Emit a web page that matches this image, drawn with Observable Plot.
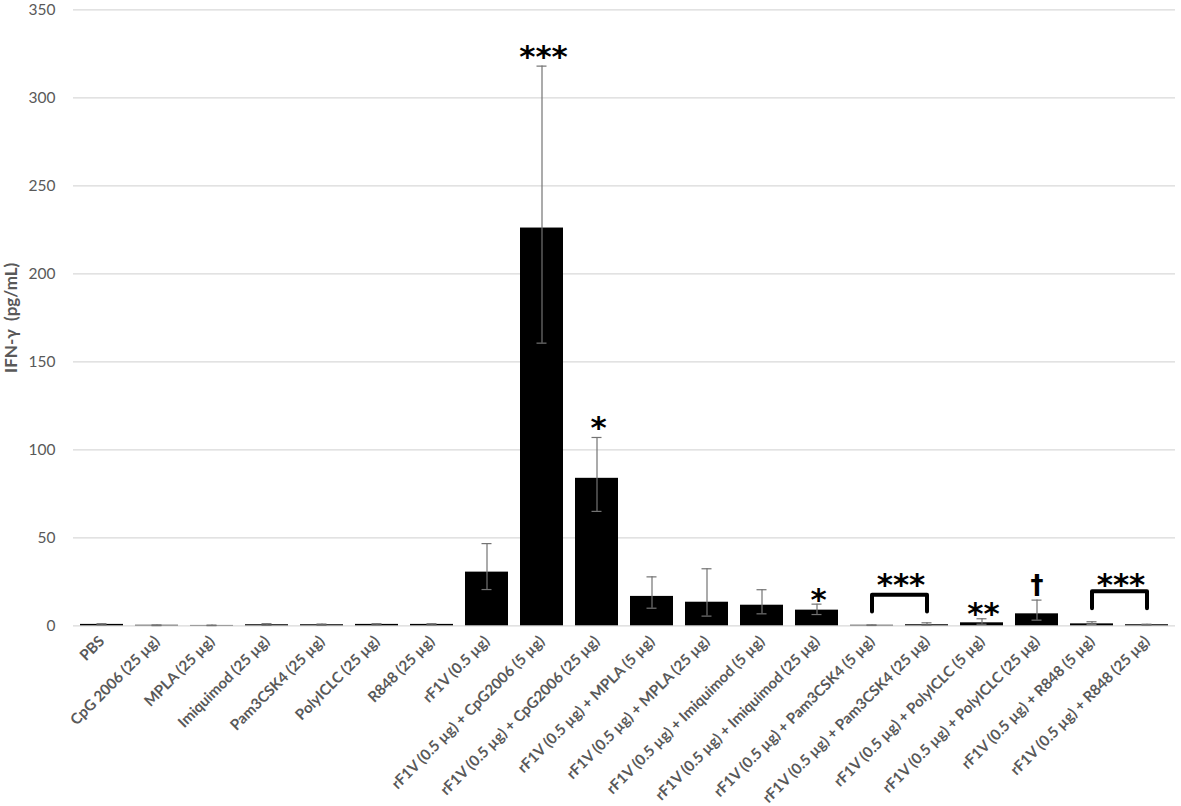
<!DOCTYPE html>
<html>
<head>
<meta charset="utf-8">
<script src="https://cdn.jsdelivr.net/npm/d3@7"></script>
<script src="https://cdn.jsdelivr.net/npm/@observablehq/plot@0.6"></script>
<style>
  html, body { margin: 0; padding: 0; background: #fff; }
  g[aria-label="stars"] text { letter-spacing: 3px; }
</style>
</head>
<body>
<div id="chart"></div>
<script>
const categories = [
  "PBS", "CpG 2006 (25 µg)", "MPLA (25 µg)", "Imiquimod (25 µg)", "Pam3CSK4 (25 µg)",
  "PolyICLC (25 µg)", "R848 (25 µg)", "rF1V (0.5 µg)",
  "rF1V (0.5 µg) + CpG2006 (5 µg)", "rF1V (0.5 µg) + CpG2006 (25 µg)",
  "rF1V (0.5 µg) + MPLA (5 µg)", "rF1V (0.5 µg) + MPLA (25 µg)",
  "rF1V (0.5 µg) + Imiquimod (5 µg)", "rF1V (0.5 µg) + Imiquimod (25 µg)",
  "rF1V (0.5 µg) + Pam3CSK4 (5 µg)", "rF1V (0.5 µg) + Pam3CSK4 (25 µg)",
  "rF1V (0.5 µg) + PolyICLC (5 µg)", "rF1V (0.5 µg) + PolyICLC (25 µg)",
  "rF1V (0.5 µg) + R848 (5 µg)", "rF1V (0.5 µg) + R848 (25 µg)"
];
const means = [0.8, 0.3, 0.2, 0.6, 0.6, 0.8, 0.8, 30.5, 226, 83.8, 16.7, 13.4, 11.7, 8.9, 0.3, 0.6, 1.7, 6.8, 1.1, 0.6];
const lows  = [0.5, 0.1, 0.1, 0.3, 0.3, 0.5, 0.5, 20.6, 160.6, 65, 10, 5.5, 6.8, 6.4, 0.2, 0.4, 0.9, 3.2, 0.8, 0.4];
const highs = [1.2, 0.5, 0.4, 1.2, 1.0, 1.2, 1.2, 46.7, 318, 107, 27.8, 32.4, 20.5, 12.3, 0.5, 1.7, 4.0, 14.6, 2.3, 0.9];
const yTicks = [0, 50, 100, 150, 200, 250, 300, 350];
const yLabel = "IFN-γ  (pg/mL)";

// significance marks above single bars
const starCats = [categories[8], categories[9], categories[13], categories[16]];
const starY = [326, 115, 17.2, 9.7];
const starText = ["***", "*", "*", "**"];
const daggerCats = [categories[17]];
const daggerY = [22.9];
const daggerText = ["†"];
// brackets spanning two bars
const bracketLeft = [categories[14], categories[18]];
const bracketRight = [categories[15], categories[19]];
const bracketTop = [17.6, 19.7];
const bracketBottom = [8.1, 10.0];
const bracketStarY = [25.4, 25.4];
const bracketText = ["***", "***"];

const bars = categories.map((c, i) => ({cat: c, mean: means[i], lo: lows[i], hi: highs[i]}));
const stars = starCats.map((c, i) => ({cat: c, y: starY[i], t: starText[i]}));
const daggers = daggerCats.map((c, i) => ({cat: c, y: daggerY[i], t: daggerText[i]}));
const bracketPts = [];
bracketLeft.forEach((l, i) => {
  bracketPts.push({id: i, cat: l, y: bracketBottom[i]});
  bracketPts.push({id: i, cat: l, y: bracketTop[i]});
  bracketPts.push({id: i, cat: bracketRight[i], y: bracketTop[i]});
  bracketPts.push({id: i, cat: bracketRight[i], y: bracketBottom[i]});
});
const bracketStars = bracketLeft.map((l, i) => ({cat: l, y: bracketStarY[i], t: bracketText[i]}));

const chart = Plot.plot({
  width: 1181,
  height: 806,
  marginLeft: 73,
  marginRight: 6,
  marginTop: 9.3,
  marginBottom: 180.7,
  style: {fontFamily: "Lato, 'Open Sans', sans-serif", background: "#fff"},
  x: {domain: categories, padding: 0.22, paddingOuter: 0.11, label: null},
  y: {domain: [0, 350], ticks: yTicks, label: null},
  marks: [
    Plot.gridY(yTicks, {stroke: "#d9d9d9", strokeOpacity: 1, strokeWidth: 1.3}),
    Plot.barY(bars, {x: "cat", y: "mean", fill: "#000"}),
    Plot.ruleX(bars, {x: "cat", y1: "lo", y2: "hi", stroke: "#737373", strokeWidth: 1.2}),
    Plot.tickY(bars, {x: "cat", y: "hi", stroke: "#737373", strokeWidth: 1.2, insetLeft: 16.5, insetRight: 16.5}),
    Plot.tickY(bars, {x: "cat", y: "lo", stroke: "#737373", strokeWidth: 1.2, insetLeft: 16.5, insetRight: 16.5}),
    Plot.line(bracketPts, {x: "cat", y: "y", z: "id", stroke: "#000", strokeWidth: 4, strokeLinejoin: "round", strokeLinecap: "round"}),
    Plot.text(stars, {x: "cat", y: "y", text: "t", fontSize: 31, fontWeight: "bold", fontFamily: "DejaVu Sans", fill: "#000", dy: 5, dx: 1.5, ariaLabel: "stars"}),
    Plot.text(bracketStars, {x: "cat", y: "y", text: "t", fontSize: 31, fontWeight: "bold", fontFamily: "DejaVu Sans", fill: "#000", dy: 4, dx: 29, ariaLabel: "stars"}),
    Plot.text(daggers, {x: "cat", y: "y", text: "t", fontSize: 26, fontWeight: "bold", fontFamily: "DejaVu Sans", fill: "#000"}),
    Plot.axisY({ticks: yTicks, tickSize: 0, tickPadding: 18, fontSize: 15.5, color: "#595959", label: null}),
    Plot.text([yLabel], {frameAnchor: "left", textAnchor: "middle", rotate: -90, dx: -62, fontSize: 17, fontWeight: "bold", fill: "#595959"}),
    Plot.axisX({tickSize: 0, tickPadding: 13, tickRotate: -45, fontSize: 15, fontWeight: "bold", color: "#595959", label: null})
  ]
});
document.getElementById("chart").appendChild(chart);
</script>
</body>
</html>
